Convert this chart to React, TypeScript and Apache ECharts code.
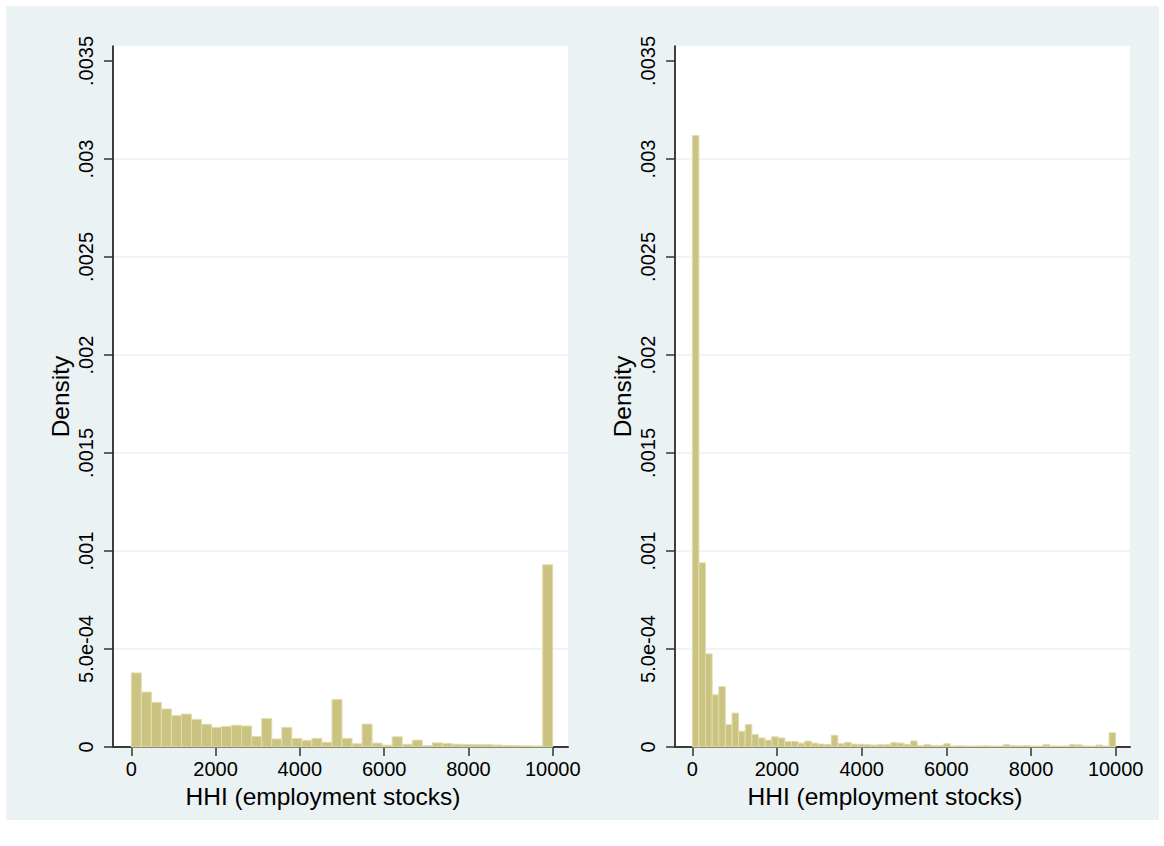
import React, { useEffect, useRef } from "react";
import * as echarts from "echarts";

// ---------- data ----------
const HHI_MIN = 0;
const HHI_MAX = 10000;

// left panel: 42 bins over 0..10000
const LEFT_DENSITY = [
  0.000378, 0.00028, 0.000228, 0.000194, 0.00016, 0.000168, 0.000141, 0.000116,
  0.0001, 0.000105, 0.000111, 0.000107, 0.000054, 0.000145, 0.000041, 0.0001,
  0.000044, 0.000034, 0.000044, 0.000024, 0.000242, 0.000044, 0.000017, 0.000117,
  0.00002, 0.000009, 0.000052, 0.000014, 0.000035, 0.000007, 0.000021, 0.000018,
  0.000014, 0.000013, 0.000012, 0.000012, 0.00001, 0.000008, 0.000007, 0.000006,
  0.000005, 0.00093,
];

// right panel: 64 bins over 0..10000
const RIGHT_DENSITY = [
  0.00312, 0.00094, 0.000475, 0.000266, 0.000308, 0.000114, 0.000173, 0.00008,
  0.000114, 0.000063, 0.000046, 0.000035, 0.000052, 0.000046, 0.000028, 0.000028,
  0.00002, 0.00003, 0.00002, 0.000015, 0.000013, 0.00006, 0.000017, 0.000024,
  0.000015, 0.000014, 0.000012, 0.00001, 0.000012, 0.000012, 0.000022, 0.00002,
  0.000014, 0.000031, 0.000007, 0.000012, 0.000007, 0.000007, 0.000017, 0.000005,
  0.000006, 0.000005, 0.000004, 0.000005, 0.000006, 0.000005, 0.000004, 0.000012,
  0.000007, 0.000006, 0.000008, 0.000005, 0.000004, 0.000012, 0.000005, 0.000004,
  0.000005, 0.000012, 0.000011, 0.000005, 0.000004, 0.00001, 0.000004, 0.000073,
];

const X_TICKS = [0, 2000, 4000, 6000, 8000, 10000];
const Y_TICKS = [0, 0.0005, 0.001, 0.0015, 0.002, 0.0025, 0.003, 0.0035];
const Y_TICK_LABELS = ["0", "5.0e-04", ".001", ".0015", ".002", ".0025", ".003", ".0035"];
const X_TITLE = "HHI (employment stocks)";
const Y_TITLE = "Density";

// ---------- style ----------
const BG = "#EAF2F3";
const BAR_FILL = "#CBC382";
const BAR_STROKE = "#E2DCAD";
const FONT = "'Liberation Sans', Arial, Helvetica, sans-serif";
const FS_TICK = 20;
const FS_TITLE = 24.5;

function toBins(values: number[]) {
  const w = (HHI_MAX - HHI_MIN) / values.length;
  return values.map((v, i) => [HHI_MIN + i * w, HHI_MIN + (i + 1) * w, v]);
}

function yLabel(v: number) {
  for (let i = 0; i < Y_TICKS.length; i++) {
    if (Math.abs(Y_TICKS[i] - v) < 1e-9) return Y_TICK_LABELS[i];
  }
  return "";
}

export default function App() {
  const ref = useRef<HTMLDivElement>(null);
  useEffect(() => {
    if (!ref.current) return;
    const chart = echarts.init(ref.current, null, { renderer: "svg" });

    const grids = [
      { left: 113, top: 46, width: 455, height: 701, xmin: -434, xmax: 10363 },
      { left: 675, top: 46, width: 455, height: 701, xmin: -409, xmax: 10338 },
    ];
    const yMax = 0.0035 * (701 / 686);

    const xAxes = grids.map((g, i) => ({
      type: "value",
      gridIndex: i,
      min: g.xmin,
      max: g.xmax,
      name: X_TITLE,
      nameLocation: "middle",
      nameGap: 36,
      nameTextStyle: {
        fontFamily: FONT,
        fontSize: FS_TITLE,
        color: "#000",
        padding: [0, 35, 0, 0],
      },
      axisLine: { show: true, onZero: false, lineStyle: { color: "#3a3a3a", width: 2 } },
      axisTick: { show: true, length: 9, customValues: X_TICKS, lineStyle: { color: "#333", width: 1.5 } },
      axisLabel: {
        customValues: X_TICKS,
        fontFamily: FONT,
        fontSize: FS_TICK,
        color: "#000",
        margin: 12,
        formatter: (v: number) => String(v),
      },
      splitLine: { show: false },
    }));

    const yAxes = grids.map((g, i) => ({
      type: "value",
      gridIndex: i,
      min: 0,
      max: yMax,
      interval: 0.0005,
      name: Y_TITLE,
      nameLocation: "middle",
      nameRotate: 90,
      nameGap: 40,
      nameTextStyle: { fontFamily: FONT, fontSize: FS_TITLE, color: "#000" },
      axisLine: { show: true, onZero: false, lineStyle: { color: "#000", width: 1.5 } },
      axisTick: { show: true, length: 9, customValues: Y_TICKS, lineStyle: { color: "#333", width: 1.5 } },
      axisLabel: {
        customValues: Y_TICKS,
        rotate: 90,
        fontFamily: FONT,
        fontSize: FS_TICK,
        color: "#000",
        margin: 17,
        formatter: (v: number) => yLabel(v),
      },
      splitLine: {
        show: true,
        showMinLine: false,
        showMaxLine: false,
        lineStyle: { color: BG, width: 1.5 },
      },
    }));

    const mkSeries = (values: number[], idx: number) => ({
      type: "custom",
      xAxisIndex: idx,
      yAxisIndex: idx,
      data: toBins(values),
      encode: { x: [0, 1], y: 2 },
      renderItem: (params: any, api: any) => {
        const p0 = api.coord([api.value(0), api.value(2)]);
        const p1 = api.coord([api.value(1), 0]);
        return {
          type: "rect",
          shape: { x: p0[0], y: p0[1], width: p1[0] - p0[0], height: p1[1] - p0[1] },
          style: { fill: BAR_FILL, stroke: BAR_STROKE, lineWidth: 1 },
        };
      },
    });

    chart.setOption({
      animation: false,
      backgroundColor: "#fff",
      graphic: [
        { type: "rect", z: -10, silent: true, shape: { x: 6, y: 6, width: 1153, height: 814 }, style: { fill: BG } },
        ...grids.map((g) => ({
          type: "rect",
          z: -9,
          silent: true,
          shape: { x: g.left, y: g.top, width: g.width, height: g.height },
          style: { fill: "#fff" },
        })),
      ],
      grid: grids.map((g) => ({ left: g.left, top: g.top, width: g.width, height: g.height, containLabel: false })),
      xAxis: xAxes,
      yAxis: yAxes,
      series: [mkSeries(LEFT_DENSITY, 0), mkSeries(RIGHT_DENSITY, 1)],
    });
    return () => chart.dispose();
  }, []);
  return (
    <div
      ref={ref}
      style={{ position: "absolute", left: 0, top: 0, width: 1164, height: 846 }}
    />
  );
}
